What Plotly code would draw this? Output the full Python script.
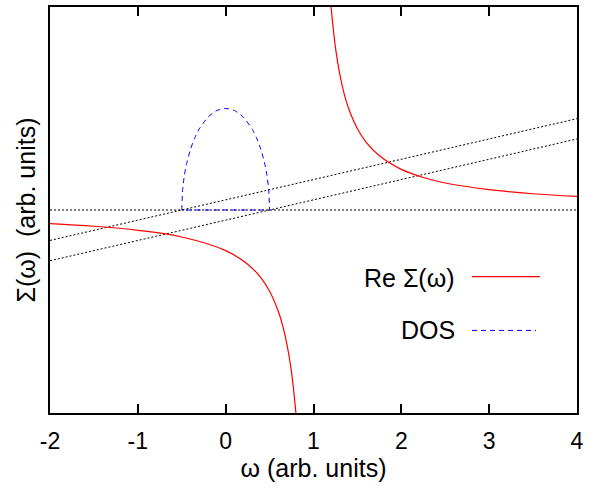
import plotly.graph_objects as go

# Re Sigma(omega): left and right branches
w_left = [-2.0, -1.5, -1.0, -0.5, 0.0, 0.25, 0.4, 0.5, 0.6, 0.65, 0.7, 0.75, 0.8]
s_left = [-0.67, -0.8, -1.0, -1.33, -2.0, -2.67, -3.33, -4.0, -5.0, -5.71, -6.67, -8.0, -10.0]
w_right = [1.2, 1.25, 1.3, 1.35, 1.4, 1.5, 1.6, 1.75, 2.0, 2.25, 2.5, 3.0, 3.5, 4.0]
s_right = [10.0, 8.0, 6.67, 5.71, 5.0, 4.0, 3.33, 2.67, 2.0, 1.6, 1.33, 1.0, 0.8, 0.67]

# DOS (semicircle, closed along baseline)
w_dos = [-0.5, -0.5, -0.49, -0.47, -0.45, -0.4, -0.35, -0.3, -0.2, -0.1, 0.0,
         0.1, 0.2, 0.3, 0.35, 0.4, 0.45, 0.47, 0.49, 0.5, 0.5, -0.5]
d_dos = [0.0, 0.0, 0.99, 1.71, 2.18, 3.0, 3.57, 4.0, 4.58, 4.9, 5.0,
         4.9, 4.58, 4.0, 3.57, 3.0, 2.18, 1.71, 0.99, 0.0, 0.0, 0.0]

# Straight dotted lines: omega - eps for eps = -0.5, +0.5, and zero baseline
w_line = [-2.0, 4.0]
line_upper = [-1.5, 4.5]
line_lower = [-2.5, 3.5]
baseline = [0.0, 0.0]

x_ticks = [-2, -1, 0, 1, 2, 3, 4]

fig = go.Figure()
dot = "2px,2px"
fig.add_trace(go.Scatter(x=w_line, y=baseline, mode="lines",
                         line=dict(color="black", width=1, dash=dot)))
fig.add_trace(go.Scatter(x=w_line, y=line_upper, mode="lines",
                         line=dict(color="black", width=1, dash=dot)))
fig.add_trace(go.Scatter(x=w_line, y=line_lower, mode="lines",
                         line=dict(color="black", width=1, dash=dot)))
fig.add_trace(go.Scatter(x=w_dos, y=d_dos, mode="lines",
                         line=dict(color="blue", width=1, dash="5px,4px", shape="spline", smoothing=0.6)))
fig.add_trace(go.Scatter(x=w_left, y=s_left, mode="lines",
                         line=dict(color="red", width=1.2, shape="spline")))
fig.add_trace(go.Scatter(x=w_right, y=s_right, mode="lines",
                         line=dict(color="red", width=1.2, shape="spline")))

L, R, T, B = 50, 24, 5, 76
W, H = 601, 489
pw, ph = W - L - R, H - T - B

def px(x):
    return (x - L) / pw

def py(y):
    return (H - B - y) / ph

fam = "Liberation Sans, Arial, sans-serif"
font_tick = dict(family=fam, size=23, color="black")
font_title = dict(family=fam, size=25, color="black")
font_leg = dict(family=fam, size=25, color="black")

# legend (gnuplot style: text left, sample right)
fig.add_annotation(x=px(457), y=py(277), xref="paper", yref="paper", text="Re Σ(ω)",
                   showarrow=False, xanchor="right", yanchor="middle", font=font_leg)
fig.add_annotation(x=px(457), y=py(330), xref="paper", yref="paper", text="DOS",
                   showarrow=False, xanchor="right", yanchor="middle", font=font_leg)
fig.add_shape(type="line", xref="paper", yref="paper", x0=px(472), x1=px(540), y0=py(276), y1=py(276),
              line=dict(color="red", width=1.2))
fig.add_shape(type="line", xref="paper", yref="paper", x0=px(472), x1=px(536), y0=py(330), y1=py(330),
              line=dict(color="blue", width=1, dash="5px,4px"))

fig.update_layout(
    width=W, height=H,
    margin=dict(l=L, r=R, t=T, b=B),
    plot_bgcolor="white", paper_bgcolor="white",
    showlegend=False,
    font=font_tick,
    xaxis=dict(range=[-2, 4], tickvals=x_ticks, ticktext=[str(t) for t in x_ticks],
               ticks="inside", ticklen=9, tickwidth=1.5, tickcolor="black",
               showline=True, linecolor="black", linewidth=2, mirror="allticks",
               showgrid=False, zeroline=False, ticklabelstandoff=6,
               title=dict(text="ω (arb. units)", standoff=6, font=font_title),
               tickfont=font_tick),
    yaxis=dict(range=[-10, 10], showticklabels=False, ticks="",
               showline=True, linecolor="black", linewidth=2, mirror=True,
               showgrid=False, zeroline=False,
               title=dict(text="Σ(ω)  (arb. units)", standoff=5, font=font_title)),
)

fig.write_html("out.html")
